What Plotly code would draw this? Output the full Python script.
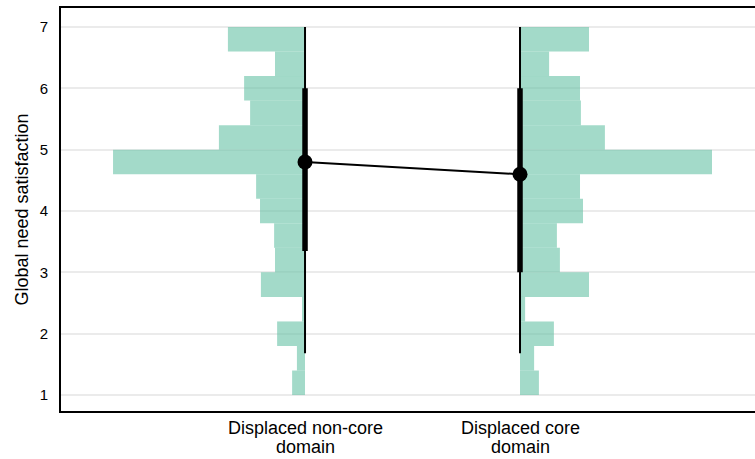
import plotly.graph_objects as go

# ---- data ----
category_lines = [["Displaced non-core", "domain"], ["Displaced core", "domain"]]
cat_pos = [1, 2]
bin_centers = [6.8, 6.4, 6.0, 5.6, 5.2, 4.8, 4.4, 4.0, 3.6, 3.2, 2.8, 2.4, 2.0, 1.6, 1.2]
noncore_counts = [25.7, 10, 20.3, 18.3, 28.7, 64, 16.3, 15, 10.3, 10, 14.7, 1, 9.3, 2.7, 4.3]
core_counts = [23, 9.7, 20, 20.3, 28.3, 64, 20, 21, 12.3, 13.3, 23, 1.7, 11.3, 4.7, 6.3]
means = [4.8, 4.6]
inner_low = [3.35, 3.0]
inner_high = [6.0, 6.0]
outer_low = [1.68, 1.68]
outer_high = [7.0, 7.0]
y_ticks = [1, 2, 3, 4, 5, 6, 7]

# ---- styling ----
slab_color = "rgba(102,194,165,0.6)"
max_len = 0.893
scale = max_len / max(max(noncore_counts), max(core_counts))
bin_width = 0.4

fig = go.Figure()

# left-facing slab for non-core, right-facing for core
fig.add_trace(go.Bar(
    y=bin_centers, x=[-c * scale for c in noncore_counts], base=cat_pos[0],
    orientation="h", width=bin_width, marker=dict(color=slab_color, line=dict(width=0)),
    showlegend=False, hoverinfo="skip"))
fig.add_trace(go.Bar(
    y=bin_centers, x=[c * scale for c in core_counts], base=cat_pos[1],
    orientation="h", width=bin_width, marker=dict(color=slab_color, line=dict(width=0)),
    showlegend=False, hoverinfo="skip"))

for i, xp in enumerate(cat_pos):
    fig.add_trace(go.Scatter(x=[xp, xp], y=[outer_low[i], outer_high[i]], mode="lines",
                             line=dict(color="black", width=2), showlegend=False, hoverinfo="skip"))
    fig.add_trace(go.Scatter(x=[xp, xp], y=[inner_low[i], inner_high[i]], mode="lines",
                             line=dict(color="black", width=5.5), showlegend=False, hoverinfo="skip"))

fig.add_trace(go.Scatter(x=cat_pos, y=means, mode="lines+markers",
                         line=dict(color="black", width=2),
                         marker=dict(color="black", size=15),
                         showlegend=False, hoverinfo="skip"))

# two-line category labels under the axis
annotations = []
for xp, lines in zip(cat_pos, category_lines):
    for j, txt in enumerate(lines):
        annotations.append(dict(x=xp, xref="x", y=0, yref="paper", text=txt,
                                showarrow=False, xanchor="center", yanchor="middle",
                                yshift=-17 - 19 * j,
                                font=dict(size=18, color="black")))

fig.update_layout(
    width=755, height=459,
    margin=dict(l=61, r=0, t=8, b=48),
    plot_bgcolor="white", paper_bgcolor="white",
    barmode="overlay",
    font=dict(family="Liberation Sans, Arial, sans-serif", color="black"),
    annotations=annotations,
    xaxis=dict(range=[-0.135, 3.093], tickvals=cat_pos, showticklabels=False,
               showline=True, linecolor="black", linewidth=2, mirror=True,
               showgrid=False, zeroline=False, ticks="", automargin=False),
    yaxis=dict(range=[0.74, 7.31], tickvals=y_ticks,
               showline=True, linecolor="black", linewidth=2, mirror=False,
               showgrid=True, gridcolor="#EBEBEB", gridwidth=1.5,
               zeroline=False, ticks="", ticklabelstandoff=8, automargin=False,
               tickfont=dict(size=15, color="black"),
               title=dict(text="Global need satisfaction", font=dict(size=18, color="black"),
                          standoff=6)),
)

fig.write_html("out.html")
